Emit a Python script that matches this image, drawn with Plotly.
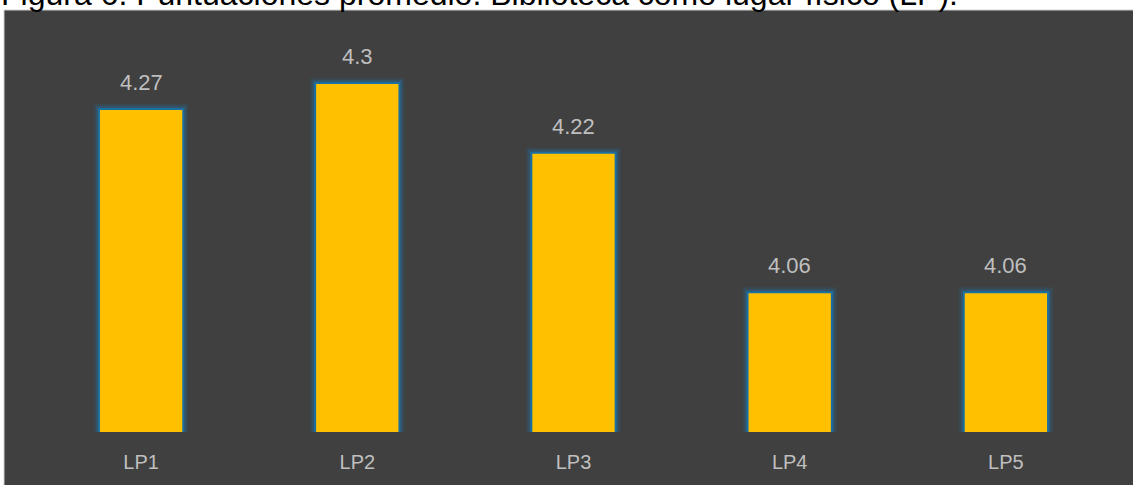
import plotly.graph_objects as go

categories = ["LP1", "LP2", "LP3", "LP4", "LP5"]
values = [4.27, 4.30, 4.22, 4.06, 4.06]
value_labels = ["4.27", "4.3", "4.22", "4.06", "4.06"]
title_text = "Figura 6. Puntuaciones promedio. Biblioteca como lugar físico (LP)."

W, H = 1133, 485
L, R, T, B = 33, 19, 41, 53

fig = go.Figure()
# soft blue glow behind bars
for lw, col in [(10, "rgba(30,120,180,0.15)"), (6, "rgba(30,120,180,0.25)")]:
    fig.add_trace(go.Bar(
        x=categories, y=values, width=0.39,
        marker=dict(color="rgba(0,0,0,0)", line=dict(color=col, width=lw)),
        hoverinfo="skip", showlegend=False,
    ))
fig.add_trace(go.Bar(
    x=categories, y=values, width=0.39,
    marker=dict(color="#FFC000", line=dict(color="#1a6fa3", width=2)),
    showlegend=False,
))

for c, v, t in zip(categories, values, value_labels):
    fig.add_annotation(x=c, y=v, text=t, showarrow=False, yanchor="bottom", yshift=12,
                       font=dict(family="Liberation Sans, Arial, sans-serif", size=22, color="#BFBFBF"))

# dark background panel
fig.add_shape(type="rect", xref="paper", yref="paper",
              x0=(4 - L) / (W - L - R), x1=(W + 5 - L) / (W - L - R),
              y0=-(H + 5 - (H - B)) / (H - T - B), y1=((H - B) - 10) / (H - T - B),
              fillcolor="#404040", line=dict(color="#D0D0D0", width=1), layer="below")

fig.add_annotation(text=title_text, xref="paper", yref="paper",
                   x=(-1 - L) / (W - L - R), xanchor="left",
                   y=((H - B) - 9) / (H - T - B), yanchor="bottom", yshift=-5, showarrow=False,
                   font=dict(family="Liberation Sans, Arial, sans-serif", size=32, color="#000000"))

fig.update_layout(
    width=W, height=H,
    margin=dict(l=L, r=R, t=T, b=B, pad=0),
    paper_bgcolor="white", plot_bgcolor="rgba(0,0,0,0)",
    barmode="overlay",
    xaxis=dict(showgrid=False, zeroline=False, showline=False, ticks="",
               tickfont=dict(family="Liberation Sans, Arial, sans-serif", size=20, color="#BFBFBF"),
               ticklabelstandoff=16, range=[-0.5, 4.5]),
    yaxis=dict(range=[3.9, 4.348], visible=False, showgrid=False, zeroline=False),
)

fig.write_html("out.html")
